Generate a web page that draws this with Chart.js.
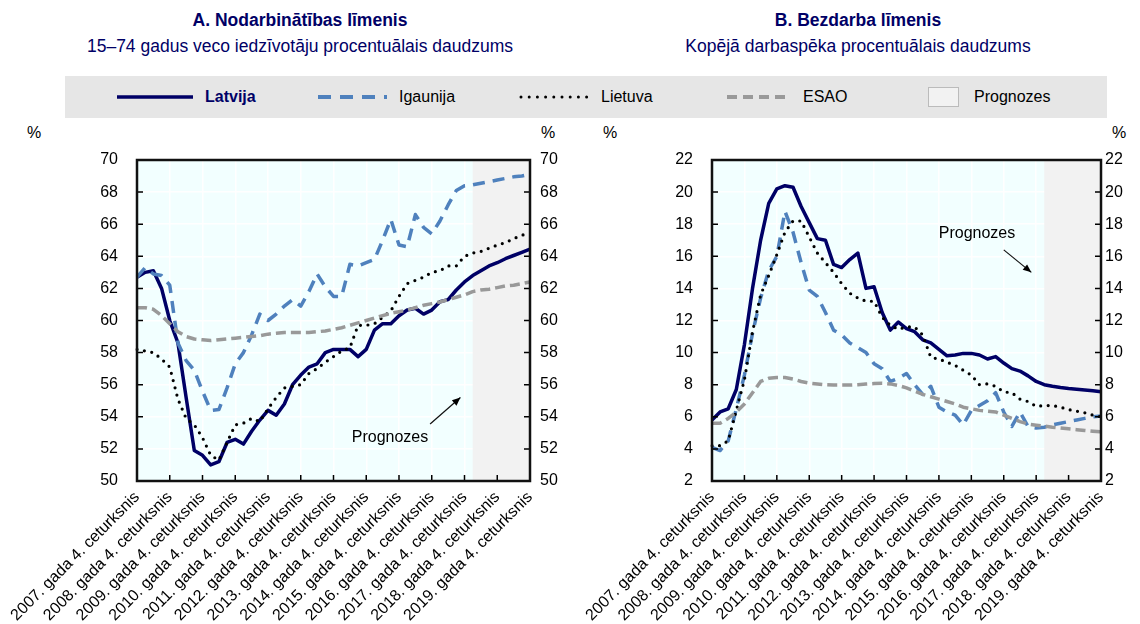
<!DOCTYPE html>
<html>
<head>
<meta charset="utf-8">
<script src="https://cdn.jsdelivr.net/npm/chart.js@4"></script>
<style>
  body { margin: 0; width: 1140px; height: 624px; background: #fff; position: relative; overflow: hidden;
         font-family: "Liberation Sans", Arial, sans-serif; }
  .title { position: absolute; top: 7px; width: 560px; text-align: center; color: #000066; font-size: 17.5px; line-height: 26px; }
  .title b { font-weight: bold; }
  #legend { position: absolute; left: 65px; top: 76px; width: 1042px; height: 42px; background: #e6e6e6; }
  .item { position: absolute; top: 0; height: 42px; display: flex; align-items: center; font-size: 16px; color: #000; }
  .item svg { margin-right: 12px; }
  .pct { position: absolute; top: 124px; font-size: 16px; }
  canvas { position: absolute; top: 125px; }
</style>
</head>
<body>
<div class="title" style="left:20px"><b>A. Nodarbinātības līmenis</b><br>15–74 gadus veco iedzīvotāju procentuālais daudzums</div>
<div class="title" style="left:578px"><b>B. Bezdarba līmenis</b><br>Kopējā darbaspēka procentuālais daudzums</div>

<div id="legend">
  <div class="item" style="left:52px"><svg width="76" height="10"><line x1="0" y1="5" x2="76" y2="5" stroke="#000066" stroke-width="3.5"/></svg><b style="color:#000066">Latvija</b></div>
  <div class="item" style="left:252px"><svg width="70" height="10"><line x1="1" y1="5" x2="70" y2="5" stroke="#4f81bd" stroke-width="4" stroke-dasharray="13 9"/></svg>Igaunija</div>
  <div class="item" style="left:454px"><svg width="70" height="10"><line x1="2" y1="5" x2="68" y2="5" stroke="#000" stroke-width="3" stroke-linecap="round" stroke-dasharray="0 8.2"/></svg>Lietuva</div>
  <div class="item" style="left:662px"><svg width="64" height="10"><line x1="0" y1="5" x2="64" y2="5" stroke="#999" stroke-width="4" stroke-dasharray="10 6"/></svg>ESAO</div>
  <div class="item" style="left:863px"><svg width="32" height="21" style="margin-right:14px"><rect x="0.5" y="0.5" width="30" height="19" fill="#f2f2f2" stroke="#bbb"/></svg>Prognozes</div>
</div>

<div class="pct" style="left:27px">%</div>
<div class="pct" style="left:541px">%</div>
<div class="pct" style="left:603px">%</div>
<div class="pct" style="left:1112px">%</div>

<canvas id="chartA" width="570" height="499" style="left:0"></canvas>
<canvas id="chartB" width="570" height="499" style="left:570px"></canvas>

<script>
// ceturkšņi no 2007. gada 4. ceturkšņa līdz 2019. gada 4. ceturksnim
const quarters = [];
for (let y = 2007; y <= 2019; y++) {
  for (let q = 1; q <= 4; q++) {
    if (y === 2007 && q < 4) continue;
    quarters.push(y + ". gada " + q + ". ceturksnis");
  }
}
const forecastStart = 41; // 2018. gada 1. ceturksnis

// A. Nodarbinātības līmenis
const latvijaA = [62.7,63.0,63.1,62.0,60.0,58.6,55.2,51.9,51.6,51.0, 51.2,52.4,52.6,52.3,53.1,53.8,54.4,54.1,54.8,56.0,
  56.6,57.1,57.3,58.0,58.2,58.2,58.2,57.75,58.2,59.4, 59.8,59.8,60.3,60.65,60.76,60.4,60.65,61.17,61.3,61.9,
  62.4,62.8,63.1,63.4,63.6,63.85,64.05,64.25,64.45];
const igaunijaA = [62.7,63.3,62.9,62.8,62.2,58.6,57.5,56.9,55.6,54.4, 54.45,55.8,57.3,58.0,59.1,60.4,60.0,60.4,60.9,61.3,
  60.9,61.8,62.9,62.1,61.5,61.5,63.5,63.4,63.6,63.8, 65.0,66.3,64.7,64.6,66.6,65.8,65.4,66.2,67.2,68.1,
  68.4,68.45,68.55,68.65,68.75,68.85,68.95,69.0,69.1];
const lietuvaA = [58.2,58.1,58.0,57.6,57.1,55.1,53.9,53.5,52.7,51.6, 51.3,52.4,53.5,53.6,53.9,53.7,54.5,55.2,55.8,55.9,
  56.0,56.7,57.0,57.4,57.75,58.1,58.3,59.7,59.7,59.8, 60.2,60.6,61.5,62.3,62.5,62.7,63.0,63.1,63.4,63.4,
  64.0,64.2,64.3,64.5,64.7,64.85,65.1,65.3,65.5];
const esaoA = [60.8,60.8,60.7,60.3,59.8,59.3,59.0,58.85,58.8,58.75, 58.8,58.85,58.9,58.95,59.0,59.05,59.15,59.2,59.25,59.25,
  59.25,59.25,59.3,59.35,59.45,59.55,59.7,59.85,60.0,60.15, 60.3,60.45,60.55,60.65,60.8,60.95,61.05,61.15,61.3,61.45,
  61.6,61.8,61.9,61.95,62.05,62.15,62.2,62.3,62.4];

// B. Bezdarba līmenis
const latvijaB = [5.8,6.3,6.5,7.7,10.5,14.0,17.0,19.3,20.2,20.4, 20.3,19.1,18.1,17.1,17.0,15.5,15.3,15.8,16.2,14.0,
  14.1,12.5,11.4,11.9,11.5,11.3,10.8,10.6,10.2,9.8, 9.85,9.95,9.95,9.85,9.6,9.75,9.35,9.0,8.85,8.55,
  8.2,8.0,7.9,7.82,7.76,7.72,7.67,7.62,7.56];
const igaunijaB = [4.1,3.9,4.5,6.5,8.6,11.2,13.4,15.1,16.0,18.8, 17.5,15.6,13.9,13.5,12.5,11.4,11.1,10.6,10.3,10.0,
  9.3,9.0,8.2,8.4,8.7,8.0,7.4,7.9,6.6,6.3, 6.1,5.5,6.4,6.7,7.0,7.5,6.3,5.4,6.3,5.4,
  5.3,5.35,5.5,5.6,5.7,5.8,5.9,6.0,6.05];
const lietuvaB = [4.2,4.2,4.5,6.4,8.3,11.3,13.6,14.8,16.1,17.5, 18.2,18.2,17.2,16.2,15.6,15.0,14.3,13.7,13.4,13.2,
  13.2,12.2,11.7,11.45,11.6,11.6,11.1,9.7,9.6,9.4, 9.2,8.9,8.6,8.0,8.05,7.9,7.55,7.5,7.1,6.95,
  6.65,6.7,6.7,6.6,6.45,6.35,6.25,6.1,6.0];
const esaoB = [5.6,5.6,5.9,6.3,6.8,7.5,8.2,8.4,8.45,8.45, 8.35,8.2,8.1,8.05,8.0,7.98,7.98,7.98,8.0,8.04,
  8.07,8.09,8.05,7.95,7.8,7.6,7.4,7.25,7.1,6.95, 6.8,6.6,6.5,6.4,6.35,6.3,6.1,5.9,5.7,5.55,
  5.48,5.42,5.35,5.3,5.25,5.2,5.15,5.1,5.06];

const FONT = { family: "'Liberation Sans', Arial, sans-serif", size: 16 };

// fons, prognožu josla, rāmis, iekšējās atzīmes un piezīme
const framePlugin = {
  id: "frame",
  beforeDraw(chart) {
    const a = chart.chartArea, ctx = chart.ctx;
    ctx.save();
    ctx.fillStyle = "#f2ffff";
    ctx.fillRect(a.left, a.top, a.right - a.left, a.bottom - a.top);
    ctx.restore();
  },
  beforeDatasetsDraw(chart) {
    const a = chart.chartArea, ctx = chart.ctx;
    const x0 = chart.scales.x.getPixelForValue(forecastStart);
    ctx.save();
    ctx.fillStyle = "#f2f2f2";
    ctx.fillRect(x0, a.top, a.right - x0, a.bottom - a.top);
    ctx.restore();
  },
  afterDatasetsDraw(chart, args, opts) {
    const a = chart.chartArea, ctx = chart.ctx;
    const xs = chart.scales.x, ys = chart.scales.y;
    ctx.save();
    ctx.strokeStyle = "#000";
    ctx.lineWidth = 1.5;
    ctx.beginPath();
    xs.ticks.forEach((t, i) => {
      if (i % 4 !== 0 || i === 0 || i === quarters.length - 1) return;
      const x = xs.getPixelForTick(i);
      ctx.moveTo(x, a.bottom); ctx.lineTo(x, a.bottom - 6);
    });
    ys.ticks.forEach((t, i) => {
      const y = ys.getPixelForTick(i);
      ctx.moveTo(a.left, y); ctx.lineTo(a.left + 6, y);
      ctx.moveTo(a.right, y); ctx.lineTo(a.right - 6, y);
    });
    ctx.stroke();
    ctx.lineWidth = 2.5;
    ctx.strokeStyle = "#111";
    ctx.strokeRect(a.left, a.top, a.right - a.left, a.bottom - a.top);

    const n = opts.note;
    if (n) {
      ctx.fillStyle = "#000";
      ctx.font = "16px 'Liberation Sans', Arial, sans-serif";
      ctx.textAlign = "center";
      ctx.textBaseline = "middle";
      ctx.fillText("Prognozes", xs.getPixelForValue(n.text[0]), ys.getPixelForValue(n.text[1]));
      const x1 = xs.getPixelForValue(n.from[0]), y1 = ys.getPixelForValue(n.from[1]);
      const x2 = xs.getPixelForValue(n.to[0]), y2 = ys.getPixelForValue(n.to[1]);
      ctx.lineWidth = 1.2;
      ctx.beginPath(); ctx.moveTo(x1, y1); ctx.lineTo(x2, y2); ctx.stroke();
      const ang = Math.atan2(y2 - y1, x2 - x1);
      ctx.beginPath();
      ctx.moveTo(x2, y2);
      ctx.lineTo(x2 - 9 * Math.cos(ang - 0.4), y2 - 9 * Math.sin(ang - 0.4));
      ctx.lineTo(x2 - 9 * Math.cos(ang + 0.4), y2 - 9 * Math.sin(ang + 0.4));
      ctx.closePath();
      ctx.fill();
    }
    ctx.restore();
  }
};

function series(lat, igau, liet, esao) {
  return [
    { label: "ESAO", data: esao, borderColor: "#999999", borderWidth: 3.5, borderDash: [10, 5] },
    { label: "Lietuva", data: liet, borderColor: "#000000", borderWidth: 3.2, borderDash: [0, 7.5], borderCapStyle: "round" },
    { label: "Igaunija", data: igau, borderColor: "#4f81bd", borderWidth: 3.5, borderDash: [12, 8] },
    { label: "Latvija", data: lat, borderColor: "#000066", borderWidth: 3.5 }
  ];
}

function makeChart(id, datasets, yMin, yMax, leftW, rightW, rightPad, note) {
  return new Chart(document.getElementById(id), {
    type: "line",
    data: { labels: quarters, datasets },
    plugins: [framePlugin],
    options: {
      responsive: false,
      animation: false,
      layout: { padding: { top: 35, left: 0, right: 0, bottom: 0 } },
      elements: { point: { radius: 0 }, line: { tension: 0, borderJoinStyle: "round" } },
      plugins: { legend: { display: false }, tooltip: { enabled: false }, frame: { note } },
      scales: {
        x: {
          grid: { color: (c) => (c.index % 4 === 0 ? "#ffffff" : "transparent"), lineWidth: 1.5, drawTicks: false },
          border: { display: false },
          ticks: {
            autoSkip: false, minRotation: 45, maxRotation: 45, padding: 7,
            color: "#000", font: FONT,
            callback: (v, i) => (i % 4 === 0 ? quarters[i] : "")
          },
          afterFit: (s) => { s.height = 143; s.paddingLeft = 0; s.paddingRight = 0; }
        },
        y: {
          min: yMin, max: yMax,
          grid: { color: "#ffffff", lineWidth: 1.5, drawTicks: false },
          border: { display: false },
          ticks: { stepSize: 2, padding: 19, color: "#000", font: FONT },
          afterFit: (s) => { s.width = leftW; s.paddingTop = 0; s.paddingBottom = 0; }
        },
        y1: {
          position: "right", min: yMin, max: yMax,
          grid: { drawOnChartArea: false, drawTicks: false },
          border: { display: false },
          ticks: { stepSize: 2, padding: rightPad, color: "#000", font: FONT },
          afterFit: (s) => { s.width = rightW; s.paddingTop = 0; s.paddingBottom = 0; }
        }
      }
    }
  });
}

makeChart("chartA", series(latvijaA, igaunijaA, lietuvaA, esaoA), 50, 70, 137, 40, 10,
  { text: [30.9, 52.7], from: [35.8, 53.55], to: [39.5, 55.2] });
makeChart("chartB", series(latvijaB, igaunijaB, lietuvaB, esaoB), 2, 22, 142, 39, 4,
  { text: [32.7, 17.4], from: [36.0, 16.4], to: [39.4, 15.0] });
</script>
</body>
</html>
